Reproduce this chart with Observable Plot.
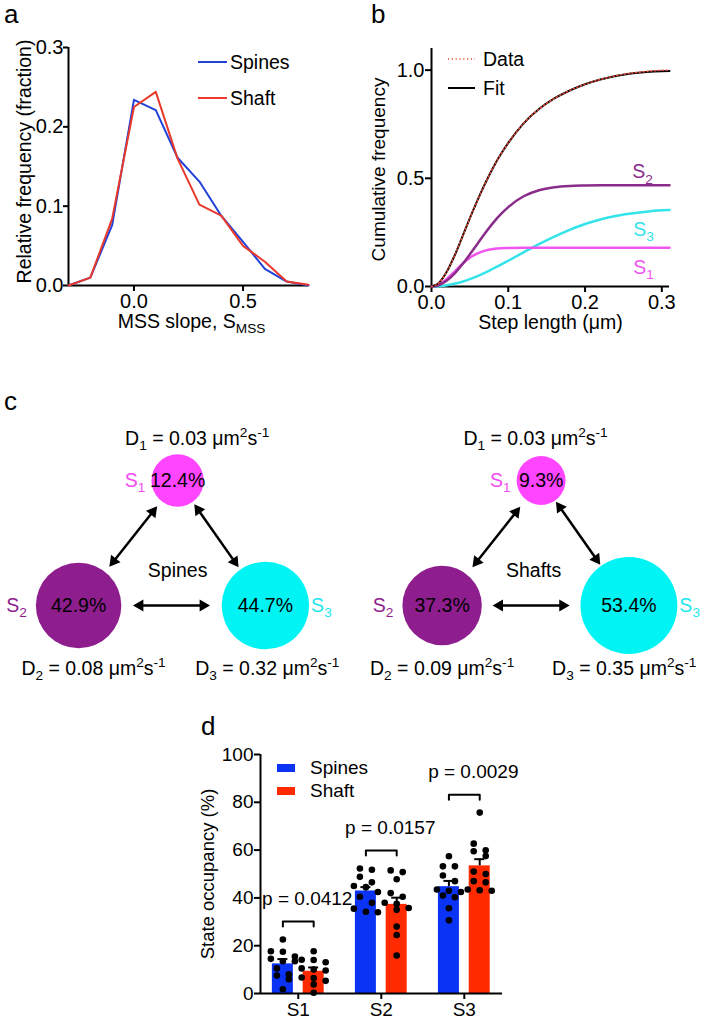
<!DOCTYPE html>
<html>
<head>
<meta charset="utf-8">
<script src="https://cdn.jsdelivr.net/npm/d3@7"></script>
<script src="https://cdn.jsdelivr.net/npm/@observablehq/plot@0.6"></script>
<style>
  html,body{margin:0;padding:0;background:#fff;}
  #fig{position:relative;width:703px;height:1030px;overflow:hidden;font-family:"Liberation Sans",Arial,Helvetica,sans-serif;color:#000;background:#fff;}
  .abs{position:absolute;}
  .letter{position:absolute;font-size:26px;line-height:26px;}
  .lg{position:absolute;display:flex;align-items:center;height:20px;line-height:20px;white-space:nowrap;}
  .lg svg{display:block;}
</style>
</head>
<body>
<div id="fig"></div>
<script>
const FONT = '"Liberation Sans", Arial, Helvetica, sans-serif';

// ---------------- Panel a data ----------------
const slopeBins  = [-0.3, -0.2, -0.1, 0.0, 0.1, 0.2, 0.3, 0.4, 0.5, 0.6, 0.7, 0.8];
const freqSpines = [0.000, 0.010, 0.076, 0.234, 0.221, 0.161, 0.131, 0.088, 0.055, 0.021, 0.005, 0.000];
const freqShaft  = [0.000, 0.010, 0.084, 0.225, 0.244, 0.160, 0.102, 0.088, 0.050, 0.030, 0.005, 0.001];
const slopeTicks = [0, 0.5];
const freqTicks  = [0, 0.1, 0.2, 0.3];

// ---------------- Panel b data ----------------
const stepLen = [0,0.01,0.02,0.03,0.04,0.05,0.06,0.07,0.08,0.09,0.10,0.12,0.14,0.16,0.18,0.20,0.22,0.24,0.26,0.28,0.30,0.31];
const cdfData = [0,0.018,0.069,0.142,0.228,0.316,0.399,0.477,0.548,0.610,0.664,0.754,0.820,0.869,0.906,0.935,0.957,0.974,0.986,0.994,0.999,1.000];
const cdfFit  = [0,0.018,0.069,0.142,0.228,0.316,0.399,0.477,0.548,0.610,0.664,0.754,0.820,0.869,0.906,0.935,0.957,0.973,0.984,0.991,0.995,0.996];
const cdfS1   = [0,0.009,0.035,0.069,0.104,0.133,0.153,0.166,0.173,0.177,0.178,0.179,0.179,0.179,0.179,0.179,0.179,0.179,0.179,0.179,0.179,0.179];
const cdfS2   = [0,0.007,0.028,0.060,0.102,0.149,0.198,0.247,0.293,0.333,0.367,0.417,0.445,0.459,0.465,0.467,0.468,0.468,0.468,0.468,0.468,0.468];
const cdfS3   = [0,0.001,0.006,0.013,0.022,0.034,0.048,0.064,0.082,0.100,0.119,0.158,0.196,0.231,0.262,0.289,0.310,0.326,0.337,0.346,0.352,0.354];
const stepTicks = [0, 0.1, 0.2, 0.3];
const cdfTicks  = [0, 0.5, 1.0];

// ---------------- Panel c data ----------------
const states       = ["S1", "S2", "S3"];
const compartments = ["Spines", "Shafts"];
const occSpinesC   = [12.4, 42.9, 44.7];
const occShaftsC   = [9.3, 37.3, 53.4];
const diffSpines   = [0.03, 0.08, 0.32];
const diffShafts   = [0.03, 0.09, 0.35];
const transitions  = [["S1", "S2"], ["S1", "S3"], ["S2", "S3"]];

// ---------------- Panel d data ----------------
const groups    = ["S1", "S2", "S3"];
const seriesD   = ["Spines", "Shaft"];
const meanSpines = [12.4, 42.9, 44.7];
const meanShaft  = [9.3, 37.3, 53.4];
const semSpines  = [2.0, 1.6, 2.4];
const semShaft   = [1.6, 2.8, 2.8];
const spinesS1 = [22.6,17.7,17.5,15.5,14.5,13.5,13.5,10.5,8.0,7.5,6.0,1.8];
const spinesS2 = [52.3,51.8,48.8,46.5,45.0,44.5,42.5,40.5,38.0,35.5,34.2,34.0];
const spinesS3 = [57.4,53.2,53.2,49.4,47.0,43.5,43.0,42.5,41.0,40.3,35.7,30.6];
const shaftS1  = [17.7,14.1,14.0,13.1,10.5,10.0,9.6,6.7,6.5,5.3,3.8,0.3];
const shaftS2  = [51.5,50.8,47.8,42.0,40.5,38.0,37.5,35.8,35.0,28.0,24.5,15.9];
const shaftS3  = [75.7,62.7,59.9,59.5,57.5,51.0,50.0,47.0,46.5,43.5,43.2,43.0];
const pValues  = ["0.0412", "0.0157", "0.0029"];
const occTicks = [0, 20, 40, 60, 80, 100];

// ---------------- colours ----------------
const BLUE_LINE = "#2141d9", RED_LINE = "#e8392b";
const BLUE_BAR = "#0a33f5", RED_BAR = "#ff2a00";
const C_S1 = "#ff45ff", C_S2 = "#8e1e8e", C_S3 = "#00f4f4";
const T_S1 = "#f24cf2", T_S2 = "#8e1e8e", T_S3 = "#1fe6ee";
const B_S1 = "#f055f0", B_S2 = "#8a2d8a", B_S3 = "#35e3ea", B_DATA = "#e84a3a";

// ---------------- helpers ----------------
const fig = document.getElementById("fig");
const SVGNS = "http://www.w3.org/2000/svg";
function richify(root) {
  root.querySelectorAll("text").forEach(t => {
    const targets = t.querySelector("tspan") ? Array.from(t.querySelectorAll("tspan")) : [t];
    targets.forEach(n => {
      const s = n.textContent;
      if (!/[_^]\{/.test(s)) return;
      const fs = parseFloat(getComputedStyle(n).fontSize) || 16;
      while (n.firstChild) n.removeChild(n.firstChild);
      let cur = 0, last = 0, m;
      const re = /([_^])\{([^}]*)\}/g;
      const push = (txt, kind) => {
        if (!txt) return;
        const ts = document.createElementNS(SVGNS, "tspan");
        const target = kind === "_" ? 0.27 * fs : kind === "^" ? -0.38 * fs : 0;
        if (target !== cur) ts.setAttribute("dy", target - cur);
        cur = target;
        if (kind) ts.setAttribute("font-size", 0.7 * fs);
        ts.textContent = txt;
        n.appendChild(ts);
      };
      while ((m = re.exec(s))) { push(s.slice(last, m.index), null); push(m[2], m[1]); last = re.lastIndex; }
      push(s.slice(last), null);
    });
  });
}
function place(node, left, top, w) {
  const div = document.createElement("div");
  div.className = "abs";
  div.style.left = left + "px"; div.style.top = top + "px";
  if (w) div.style.width = w + "px";
  div.appendChild(node); fig.appendChild(div); richify(div);
  return div;
}
function letter(ch, left, top) {
  const d = document.createElement("div");
  d.className = "letter"; d.textContent = ch;
  d.style.left = left + "px"; d.style.top = top + "px";
  fig.appendChild(d);
}
function legendRow(left, cy, swatch, label, fontSize, gap) {
  const row = document.createElement("div");
  row.className = "lg";
  row.style.left = left + "px"; row.style.top = (cy - 10) + "px"; row.style.fontSize = fontSize + "px";
  row.innerHTML = swatch + `<span style="margin-left:${gap}px">${label}</span>`;
  fig.appendChild(row);
}
const lineSwatch = (w, color, dash, sw) =>
  `<svg width="${w}" height="20"><line x1="0" x2="${w}" y1="10" y2="10" stroke="${color}" stroke-width="${sw}" ${dash ? `stroke-dasharray="${dash}"` : ""}/></svg>`;
const rectSwatch = (w, h, color) =>
  `<svg width="${w}" height="20"><rect x="0" y="${10 - h / 2}" width="${w}" height="${h}" fill="${color}"/></svg>`;
const baseStyle = {fontFamily: FONT, fontSize: "20px", color: "#000", background: "transparent", overflow: "visible"};

// ================= Panel a =================
const tableA = slopeBins.map((x, i) => ({x, spines: freqSpines[i], shaft: freqShaft[i]}));
const plotA = Plot.plot({
  width: 330, height: 345, marginLeft: 68, marginRight: 22, marginTop: 47, marginBottom: 60,
  style: baseStyle,
  x: {domain: [slopeBins[0], slopeBins[slopeBins.length - 1]]},
  y: {domain: [0, freqTicks[freqTicks.length - 1]]},
  marks: [
    Plot.axisY({ticks: freqTicks, tickFormat: d3.format(".1f"), tickSize: 5, tickPadding: 0, strokeWidth: 2, label: null, fontSize: 20}),
    Plot.axisX({ticks: slopeTicks, tickFormat: d3.format(".1f"), tickSize: 6, tickPadding: 2, strokeWidth: 2, label: null, fontSize: 20}),
    Plot.ruleX([slopeBins[0]], {strokeWidth: 2}),
    Plot.ruleY([0], {strokeWidth: 2}),
    Plot.line(tableA, {x: "x", y: "spines", stroke: BLUE_LINE, strokeWidth: 2}),
    Plot.line(tableA, {x: "x", y: "shaft", stroke: RED_LINE, strokeWidth: 2}),
    Plot.text(["Relative frequency (fraction)"], {text: d => d, frameAnchor: "left", textAnchor: "middle", rotate: -90, dx: -44, dy: -5, fontSize: 19.5}),
    Plot.text(["MSS slope, S_{MSS}"], {text: d => d, frameAnchor: "bottom", textAnchor: "middle", dx: 3, dy: 42, fontSize: 19.5})
  ]
});
place(plotA, 0, 0, 330);
legendRow(198, 62, lineSwatch(29, BLUE_LINE, null, 2), "Spines", 19.5, 3);
legendRow(198, 98, lineSwatch(29, RED_LINE, null, 2), "Shaft", 19.5, 3);

// ================= Panel b =================
const tableB = stepLen.map((x, i) => ({x, data: cdfData[i], fit: cdfFit[i], s1: cdfS1[i], s2: cdfS2[i], s3: cdfS3[i]}));
const plotB = Plot.plot({
  width: 353, height: 345, marginLeft: 81, marginRight: 34, marginTop: 48, marginBottom: 59,
  style: baseStyle,
  x: {domain: [0, stepLen[stepLen.length - 1]]},
  y: {domain: [0, 1.1]},
  marks: [
    Plot.axisY({ticks: cdfTicks, tickFormat: d3.format(".1f"), tickSize: 6, tickPadding: 1, strokeWidth: 2, label: null, fontSize: 20}),
    Plot.axisX({ticks: stepTicks, tickFormat: d3.format(".1f"), tickSize: 6, tickPadding: 2, strokeWidth: 2, label: null, fontSize: 20}),
    Plot.ruleX([0], {strokeWidth: 2}),
    Plot.ruleY([0], {strokeWidth: 2}),
    Plot.line(tableB, {x: "x", y: "s3", stroke: B_S3, strokeWidth: 2.5, curve: "monotone-x"}),
    Plot.line(tableB, {x: "x", y: "s1", stroke: B_S1, strokeWidth: 2.5, curve: "monotone-x"}),
    Plot.line(tableB, {x: "x", y: "s2", stroke: B_S2, strokeWidth: 2.5, curve: "monotone-x"}),
    Plot.line(tableB, {x: "x", y: "fit", stroke: "#000", strokeWidth: 2, curve: "monotone-x"}),
    Plot.line(tableB, {x: "x", y: "data", stroke: B_DATA, strokeWidth: 1.5, strokeDasharray: "1.2,2.6", curve: "monotone-x"}),
    Plot.text(tableB, Plot.selectLast({x: "x", y: "s2", text: () => "S_{2}", dx: -27, dy: -13, fill: B_S2, fontSize: 19.5})),
    Plot.text(tableB, Plot.selectLast({x: "x", y: "s3", text: () => "S_{3}", dx: -26, dy: 19.5, fill: B_S3, fontSize: 19.5})),
    Plot.text(tableB, Plot.selectLast({x: "x", y: "s1", text: () => "S_{1}", dx: -26, dy: 19.5, fill: B_S1, fontSize: 19.5})),
    Plot.text(["Cumulative frequency"], {text: d => d, frameAnchor: "left", textAnchor: "middle", rotate: -90, dx: -53, dy: 2, fontSize: 19}),
    Plot.text(["Step length (μm)"], {text: d => d, frameAnchor: "bottom", textAnchor: "middle", dx: 0, dy: 42, fontSize: 19.5})
  ]
});
place(plotB, 350, 0, 353);
legendRow(448, 59, lineSwatch(27, B_DATA, "1.2,2.6", 1.6), "Data", 19.5, 8);
legendRow(448, 88, lineSwatch(27, "#000", null, 2), "Fit", 19.5, 8);

// ================= Panel c =================
const C_W = 703, C_H = 320, C_TOP = 380;
const cUx = 93.4, cUy = 125;                    // layout units -> px
const cXLeft = -171.5 / cUx, cYTop = -(480 - C_TOP) / cUy;
const toPx = (x, y) => [(x - cXLeft) * cUx, (y - cYTop) * cUy];
const toU = (px, py) => [px / cUx + cXLeft, py / cUy + cYTop];
const stateCol = [0.06, -1, 1], stateRow = [0, 1, 1];   // triangle layout
const compOffset = [0, 3.892];
const rOpts = {type: "linear", domain: [0, 100], range: [19.4, 73.8]};
const rScale = Plot.scale({r: rOpts});
const stateFill = [C_S1, C_S2, C_S3], stateText = [T_S1, T_S2, T_S3];
const labelGap = [6, 9, 2], labelSide = ["left", "left", "right"];
const dLabelShift = [[0.21, 0.16, 0.02], [-0.06, 0, -0.05]];
const topLabelRow = -0.336, bottomLabelRow = 1.504, compLabelRow = 0.72;
const compLabelShift = [0, -0.08];

const nodes = [];
compartments.forEach((comp, ci) => {
  const occ = ci === 0 ? occSpinesC : occShaftsC, dif = ci === 0 ? diffSpines : diffShafts;
  states.forEach((s, si) => nodes.push({
    comp, ci, state: s, si, occ: occ[si], D: dif[si],
    x: compOffset[ci] + stateCol[si], y: stateRow[si], fill: stateFill[si], tcol: stateText[si]
  }));
});
const ARROW_HALF = 38.5, APEX = 6.9, HEAD_R = 4.45, HEAD_BACK = 6;
const shaftsC = [], heads = [];
compartments.forEach(comp => {
  transitions.forEach(([a, b]) => {
    const A = nodes.find(n => n.comp === comp && n.state === a), B = nodes.find(n => n.comp === comp && n.state === b);
    const [ax, ay] = toPx(A.x, A.y), [bx, by] = toPx(B.x, B.y);
    const ra = rScale.apply(A.occ), rb = rScale.apply(B.occ);
    const L = Math.hypot(bx - ax, by - ay), ux = (bx - ax) / L, uy = (by - ay) / L;
    const mx = (ax + ux * ra + bx - ux * rb) / 2, my = (ay + uy * ra + by - uy * rb) / 2;
    const e1 = [mx - ux * ARROW_HALF, my - uy * ARROW_HALF], e2 = [mx + ux * ARROW_HALF, my + uy * ARROW_HALF];
    const p1 = toU(e1[0] + ux * HEAD_BACK, e1[1] + uy * HEAD_BACK), p2 = toU(e2[0] - ux * HEAD_BACK, e2[1] - uy * HEAD_BACK);
    shaftsC.push({x1: p1[0], y1: p1[1], x2: p2[0], y2: p2[1]});
    const ang = Math.atan2(ux, -uy) * 180 / Math.PI;
    const h2 = toU(e2[0] - ux * APEX, e2[1] - uy * APEX), h1 = toU(e1[0] + ux * APEX, e1[1] + uy * APEX);
    heads.push({x: h2[0], y: h2[1], rot: ang});
    heads.push({x: h1[0], y: h1[1], rot: ang + 180});
  });
});
const stateLabels = nodes.map(n => {
  const r = rScale.apply(n.occ) + labelGap[n.si];
  const sign = labelSide[n.si] === "left" ? -1 : 1;
  return {...n, lx: n.x + sign * r / cUx, text: `S_{${n.si + 1}}`};
});
const dLabels = nodes.map(n => ({
  ...n,
  lx: n.x + dLabelShift[n.ci][n.si],
  ly: n.si === 0 ? topLabelRow : bottomLabelRow,
  text: `D_{${n.si + 1}} = ${n.D.toFixed(2)} μm^{2}s^{-1}`
}));
const compLabels = compartments.map((c, ci) => ({c, x: compOffset[ci] + stateCol[0] + compLabelShift[ci], y: compLabelRow}));

const plotC = Plot.plot({
  width: C_W, height: C_H, margin: 0,
  style: baseStyle,
  x: {domain: [cXLeft, cXLeft + C_W / cUx], axis: null},
  y: {domain: [cYTop + C_H / cUy, cYTop], axis: null},
  r: rOpts,
  color: {type: "identity"},
  marks: [
    Plot.link(shaftsC, {x1: "x1", y1: "y1", x2: "x2", y2: "y2", stroke: "#000", strokeWidth: 2.5}),
    Plot.dot(heads, {x: "x", y: "y", rotate: "rot", symbol: "triangle", r: HEAD_R, fill: "#000"}),
    Plot.dot(nodes, {x: "x", y: "y", r: "occ", fill: "fill"}),
    Plot.text(nodes, {x: "x", y: "y", text: d => d.occ.toFixed(1) + "%", fill: "#000", fontSize: 19.5}),
    Plot.text(stateLabels.filter(d => labelSide[d.si] === "left"), {x: "lx", y: "y", text: "text", fill: "tcol", textAnchor: "end", fontSize: 19.5}),
    Plot.text(stateLabels.filter(d => labelSide[d.si] === "right"), {x: "lx", y: "y", text: "text", fill: "tcol", textAnchor: "start", fontSize: 19.5}),
    Plot.text(dLabels, {x: "lx", y: "ly", text: "text", fill: "#000", fontSize: 19.5}),
    Plot.text(compLabels, {x: "x", y: "y", text: "c", fill: "#000", fontSize: 19.5})
  ]
});
place(plotC, 0, C_TOP, C_W);

// ================= Panel d =================
const D_W = 560, D_H = 330, D_ML = 260, D_MR = 58, D_MT = 54, D_MB = 37;
const dXDom = [-0.455, 2.46];
const dUnit = (D_W - D_ML - D_MR) / (dXDom[1] - dXDom[0]);
const pxPerY = (D_H - D_MT - D_MB) / 100;
const barHalf = 10.5 / dUnit, barOff = 15.4 / dUnit, capHalf = 5 / dUnit, dotStep = 12 / dUnit;
const cellSets = [[spinesS1, spinesS2, spinesS3], [shaftS1, shaftS2, shaftS3]];
const means = [meanSpines, meanShaft], sems = [semSpines, semShaft], barFills = [BLUE_BAR, RED_BAR];
const rowThr = 6.8 / pxPerY;
function swarm(vals) {
  const sorted = vals.slice().sort((a, b) => b - a), rows = [];
  for (const v of sorted) {
    const row = rows[rows.length - 1];
    if (row && row[0] - v < rowThr && row.length < 3) row.push(v); else rows.push([v]);
  }
  const out = [];
  rows.forEach(row => row.forEach((v, i) => out.push({v, off: i - (row.length - 1) / 2})));
  return out;
}
const bars = [], cellDots = [];
groups.forEach((g, gi) => {
  seriesD.forEach((s, si) => {
    const c = gi + (si === 0 ? -barOff : barOff);
    bars.push({g, gi, s, c, mean: means[si][gi], sem: sems[si][gi], fill: barFills[si]});
    swarm(cellSets[si][gi]).forEach(d => cellDots.push({x: c + d.off * dotStep, v: d.v}));
  });
});
const brackets = [], pLabels = [];
groups.forEach((g, gi) => {
  const top = d3.max([...cellSets[0][gi], ...cellSets[1][gi]]) + 7.5;
  const leg = 2.1;
  const xl = gi - barOff, xr = gi + barOff;
  brackets.push({g, x: xl, y: top - leg}, {g, x: xl, y: top}, {g, x: xr, y: top}, {g, x: xr, y: top - leg});
  pLabels.push({x: gi, y: top + 22.5 / pxPerY, text: "p = " + pValues[gi]});
});
const plotD = Plot.plot({
  width: D_W, height: D_H, marginLeft: D_ML, marginRight: D_MR, marginTop: D_MT, marginBottom: D_MB,
  style: {...baseStyle, fontSize: "19px"},
  x: {domain: dXDom},
  y: {domain: [0, 100]},
  color: {type: "identity"},
  marks: [
    Plot.axisY({ticks: occTicks, tickSize: 6, tickPadding: 1, strokeWidth: 2, label: null, fontSize: 19}),
    Plot.axisX({ticks: [0, 1, 2], tickFormat: i => groups[i], tickSize: 6, tickPadding: 3, strokeWidth: 2, label: null, fontSize: 19}),
    Plot.rect(bars, {x1: d => d.c - barHalf, x2: d => d.c + barHalf, y1: 0, y2: "mean", fill: "fill"}),
    Plot.ruleX(bars, {x: "c", y1: "mean", y2: d => d.mean + d.sem, stroke: "#000", strokeWidth: 2}),
    Plot.ruleY(bars, {y: d => d.mean + d.sem, x1: d => d.c - capHalf, x2: d => d.c + capHalf, stroke: "#000", strokeWidth: 2}),
    Plot.dot(cellDots, {x: "x", y: "v", r: 3.3, fill: "#000"}),
    Plot.ruleX([dXDom[0]], {y1: 0, y2: 100, strokeWidth: 2}),
    Plot.ruleY([0], {strokeWidth: 2}),
    Plot.line(brackets, {x: "x", y: "y", z: "g", stroke: "#000", strokeWidth: 2}),
    Plot.text(pLabels, {x: "x", y: "y", text: "text", dx: 9, fontSize: 19}),
    Plot.text(["State occupancy (%)"], {text: d => d, frameAnchor: "left", textAnchor: "middle", rotate: -90, dx: -52, fontSize: 18.5})
  ]
});
place(plotD, 0, 700, D_W);
legendRow(277, 768, rectSwatch(18, 8, BLUE_BAR), "Spines", 19, 15);
legendRow(277, 790.5, rectSwatch(18, 8, RED_BAR), "Shaft", 19, 15);

// ================= panel letters =================
letter("a", 4, 1);
letter("b", 371, 1);
letter("c", 4, 388);
letter("d", 201, 713);
</script>
</body>
</html>
